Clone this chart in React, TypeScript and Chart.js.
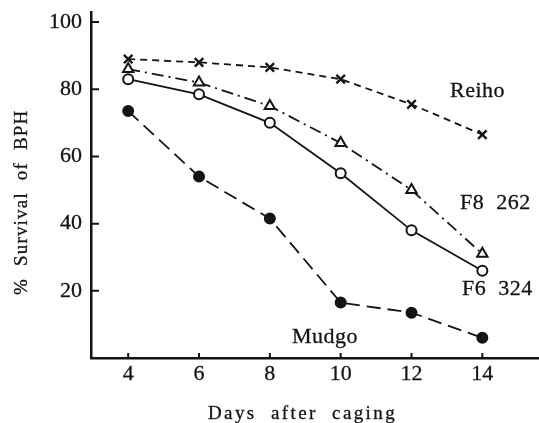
import React, { useEffect, useRef } from 'react';
import { Chart, registerables } from 'chart.js';

Chart.register(...registerables);

const days = [4, 6, 8, 10, 12, 14];
const reiho = [89, 88, 86.5, 83, 75.5, 66.5];
const f8_262 = [86, 82, 75, 64, 50, 31];
const f6_324 = [83, 78.5, 70, 55, 38, 26];
const mudgo = [73.5, 54, 41.5, 16.5, 13.5, 6];
const xTicks = [4, 6, 8, 10, 12, 14];
const yTicks = [20, 40, 60, 80, 100];
const seriesNames = ['Reiho', 'F8  262', 'F6  324', 'Mudgo'];
const xTitle = 'Days  after  caging';
const yTitle = '%  Survival  of  BPH';

const INK = '#141414';
const FONT = '"Liberation Serif", "DejaVu Serif", serif';
const STROKE = 0.3;

const annotPlugin = {
  id: 'annot',
  afterDraw(chart: any) {
    const ctx = chart.ctx as CanvasRenderingContext2D;
    const xs = chart.scales.x;
    const ys = chart.scales.y;
    ctx.save();
    ctx.strokeStyle = INK;
    ctx.lineWidth = 2;
    ctx.beginPath();
    for (const v of yTicks) {
      const y = ys.getPixelForValue(v);
      ctx.moveTo(xs.left, y);
      ctx.lineTo(xs.left + 8, y);
    }
    for (const v of xTicks) {
      const x = xs.getPixelForValue(v);
      ctx.moveTo(x, ys.bottom);
      ctx.lineTo(x, ys.bottom - 5);
    }
    ctx.stroke();

    const txt = (s: string, x: number, y: number) => {
      ctx.fillText(s, x, y);
      ctx.strokeText(s, x, y);
    };
    ctx.fillStyle = INK;
    ctx.lineWidth = STROKE;
    ctx.textBaseline = 'alphabetic';
    ctx.textAlign = 'left';
    ctx.font = `22px ${FONT}`;
    (ctx as any).letterSpacing = '0.5px';
    const pos: [number, number][] = [
      [450, 97],
      [460, 209],
      [462, 295],
      [292, 343],
    ];
    seriesNames.forEach((n, i) => txt(n, pos[i][0], pos[i][1]));

    ctx.font = `19px ${FONT}`;
    (ctx as any).letterSpacing = '2.4px';
    ctx.textAlign = 'left';
    txt(xTitle, 208, 419);

    ctx.translate(22, 295);
    ctx.rotate(-Math.PI / 2);
    ctx.textBaseline = 'middle';
    (ctx as any).letterSpacing = '1.2px';
    txt(yTitle, 0, 0);
    ctx.restore();
  },
};

export default function App() {
  const ref = useRef<HTMLCanvasElement>(null);
  useEffect(() => {
    if (!ref.current) return;
    const common = {
      borderColor: INK,
      pointBorderColor: INK,
      borderWidth: 1.8,
      pointBorderWidth: 2,
      tension: 0,
    };
    const chart = new Chart(ref.current, {
      type: 'line',
      data: {
        datasets: [
          {
            ...common,
            label: seriesNames[0],
            data: days.map((d, i) => ({ x: d, y: reiho[i] })),
            borderDash: [7, 5],
            pointStyle: 'crossRot',
            pointRadius: 6,
            pointBorderWidth: 2.4,
            pointBackgroundColor: '#fff',
          },
          {
            ...common,
            label: seriesNames[1],
            data: days.map((d, i) => ({ x: d, y: f8_262[i] })),
            borderDash: [12, 5, 2, 5],
            pointStyle: 'triangle',
            pointRadius: 6,
            pointBackgroundColor: '#fff',
          },
          {
            ...common,
            label: seriesNames[2],
            data: days.map((d, i) => ({ x: d, y: f6_324[i] })),
            pointStyle: 'circle',
            pointRadius: 5,
            pointBackgroundColor: '#fff',
          },
          {
            ...common,
            label: seriesNames[3],
            data: days.map((d, i) => ({ x: d, y: mudgo[i] })),
            borderDash: [14, 7],
            pointStyle: 'circle',
            pointRadius: 5,
            pointBackgroundColor: INK,
          },
        ],
      },
      options: {
        animation: false,
        responsive: false,
        layout: { autoPadding: false, padding: { top: 12, right: 0, left: 0, bottom: 0 } },
        plugins: { legend: { display: false }, tooltip: { enabled: false } },
        scales: {
          x: {
            type: 'linear',
            min: 2.95,
            max: 15.6,
            afterBuildTicks: (s: any) => {
              s.ticks = xTicks.map((v) => ({ value: v }));
            },
            afterFit: (s: any) => {
              s.height = 65;
              s.paddingLeft = 0;
              s.paddingRight = 0;
            },
            grid: { display: false, drawTicks: false },
            border: { display: true, color: INK, width: 2.5 },
            ticks: {
              color: INK,
              font: { family: FONT, size: 22 },
              padding: 3,
              maxRotation: 0,
              autoSkip: false,
              textStrokeColor: INK,
              textStrokeWidth: STROKE,
            },
          },
          y: {
            type: 'linear',
            min: 0,
            max: 103,
            afterBuildTicks: (s: any) => {
              s.ticks = yTicks.map((v) => ({ value: v }));
            },
            afterFit: (s: any) => {
              s.width = 91;
              s.paddingTop = 0;
              s.paddingBottom = 0;
            },
            grid: { display: false, drawTicks: false },
            border: { display: true, color: INK, width: 2.5 },
            ticks: {
              color: INK,
              font: { family: FONT, size: 22 },
              padding: 9,
              autoSkip: false,
              textStrokeColor: INK,
              textStrokeWidth: STROKE,
            },
          },
        },
      },
      plugins: [annotPlugin],
    } as any);
    return () => chart.destroy();
  }, []);
  return (
    <div style={{ position: 'fixed', left: 0, top: 0, width: 539, height: 423, background: '#fff' }}>
      <canvas ref={ref} width={539} height={423} />
    </div>
  );
}
